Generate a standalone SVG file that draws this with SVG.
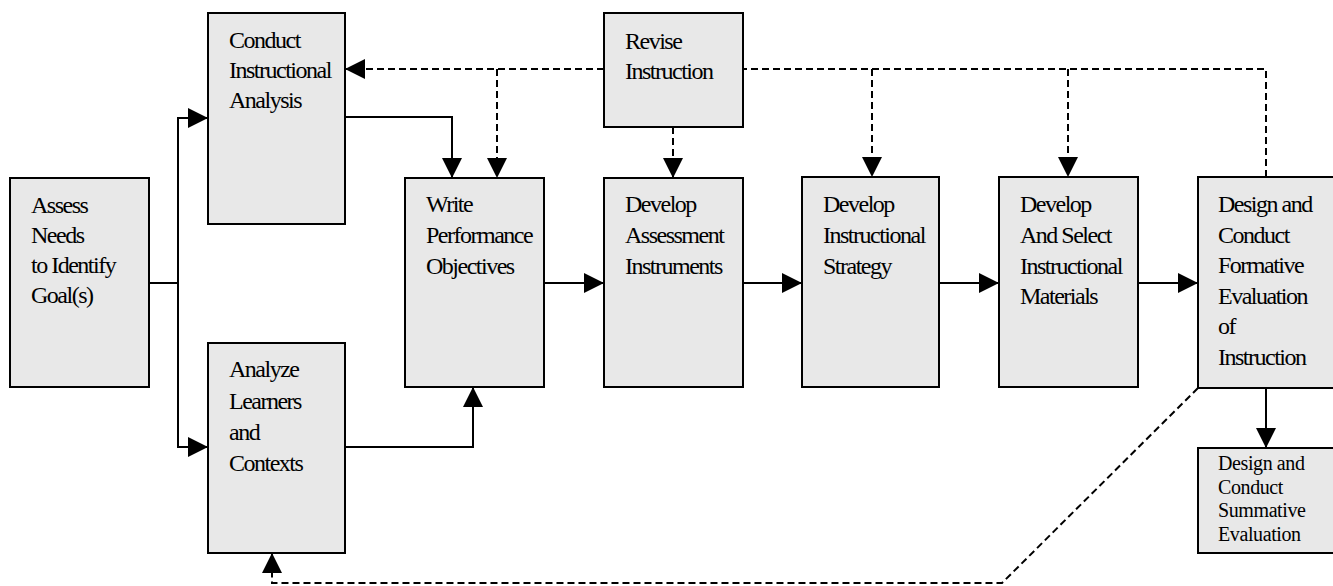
<svg xmlns="http://www.w3.org/2000/svg" width="1333" height="586" viewBox="0 0 1333 586">
<style>
.box{fill:#e8e8e8;stroke:#000;stroke-width:2}
text{font-family:'Liberation Serif','Times New Roman','DejaVu Serif',serif;font-size:24px;letter-spacing:-1.5px;fill:#000}
.sm{font-size:20px;letter-spacing:-0.4px}
.ln{fill:none;stroke:#000;stroke-width:2}
.ds{fill:none;stroke:#000;stroke-width:2;stroke-dasharray:7 4}
</style>
<defs>
<marker id="ah" markerUnits="userSpaceOnUse" markerWidth="20" markerHeight="20" refX="20" refY="10" orient="auto" viewBox="0 0 20 20">
<path d="M0,0 L20,10 L0,20 z" fill="#000"/>
</marker>
</defs>
<rect width="1333" height="586" fill="#fff"/>
<g id="connectors">
<path class="ln" d="M149,283 H178 V118 H208" marker-end="url(#ah)"/>
<path class="ln" d="M178,283 V447 H208" marker-end="url(#ah)"/>
<path class="ln" d="M345,117 H452 V178" marker-end="url(#ah)"/>
<path class="ln" d="M345,447 H473 V387" marker-end="url(#ah)"/>
<path class="ln" d="M544,283 H604" marker-end="url(#ah)"/>
<path class="ln" d="M743,283 H802" marker-end="url(#ah)"/>
<path class="ln" d="M939,283 H999" marker-end="url(#ah)"/>
<path class="ln" d="M1138,283 H1198" marker-end="url(#ah)"/>
<path class="ln" d="M1266,387 V448" marker-end="url(#ah)"/>
<path class="ds" d="M604,69 H345" marker-end="url(#ah)"/>
<path class="ds" d="M497,69 V178" marker-end="url(#ah)"/>
<path class="ds" d="M673,127 V178" marker-end="url(#ah)"/>
<path class="ds" d="M1266,177 V69 H743"/>
<path class="ds" d="M872,69 V177" marker-end="url(#ah)"/>
<path class="ds" d="M1068,69 V177" marker-end="url(#ah)"/>
<path class="ds" d="M1198,388 L1002,583 H272 V553" marker-end="url(#ah)"/>
</g>
<g id="assess">
<rect class="box" x="10" y="178" width="139" height="209"/>
<text x="31" y="213">Assess</text>
<text x="31" y="243">Needs</text>
<text x="31" y="273">to Identify</text>
<text x="31" y="303">Goal(s)</text>
</g>
<g id="conduct">
<rect class="box" x="208" y="13" width="137" height="211"/>
<text x="229" y="48">Conduct</text>
<text x="229" y="78">Instructional</text>
<text x="229" y="108">Analysis</text>
</g>
<g id="analyze">
<rect class="box" x="208" y="343" width="137" height="210"/>
<text x="229" y="377">Analyze</text>
<text x="229" y="409">Learners</text>
<text x="229" y="440">and</text>
<text x="229" y="471">Contexts</text>
</g>
<g id="write">
<rect class="box" x="405" y="178" width="139" height="209"/>
<text x="426" y="212">Write</text>
<text x="426" y="243">Performance</text>
<text x="426" y="274">Objectives</text>
</g>
<g id="revise">
<rect class="box" x="604" y="13" width="139" height="114"/>
<text x="625" y="49">Revise</text>
<text x="625" y="79">Instruction</text>
</g>
<g id="assessment">
<rect class="box" x="604" y="178" width="139" height="209"/>
<text x="625" y="212">Develop</text>
<text x="625" y="243">Assessment</text>
<text x="625" y="274">Instruments</text>
</g>
<g id="strategy">
<rect class="box" x="802" y="177" width="137" height="210"/>
<text x="823" y="212">Develop</text>
<text x="823" y="243">Instructional</text>
<text x="823" y="274">Strategy</text>
</g>
<g id="materials">
<rect class="box" x="999" y="177" width="139" height="210"/>
<text x="1020" y="212">Develop</text>
<text x="1020" y="243">And Select</text>
<text x="1020" y="274">Instructional</text>
<text x="1020" y="304">Materials</text>
</g>
<g id="formative">
<rect class="box" x="1198" y="177" width="140" height="211"/>
<text x="1218" y="212">Design and</text>
<text x="1218" y="243">Conduct</text>
<text x="1218" y="273">Formative</text>
<text x="1218" y="304">Evaluation</text>
<text x="1218" y="334">of</text>
<text x="1218" y="365">Instruction</text>
</g>
<g id="summative">
<rect class="box" x="1198" y="448" width="140" height="105"/>
<text class="sm" x="1218" y="470">Design and</text>
<text class="sm" x="1218" y="493.5">Conduct</text>
<text class="sm" x="1218" y="517">Summative</text>
<text class="sm" x="1218" y="540.5">Evaluation</text>
</g>
</svg>
